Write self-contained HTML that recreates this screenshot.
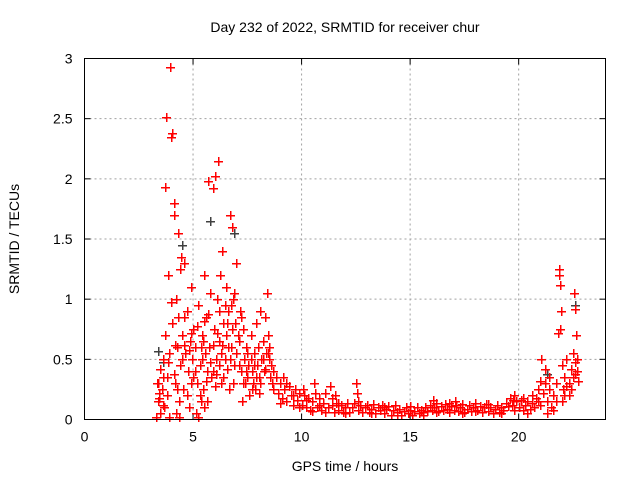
<!DOCTYPE html>
<html><head><meta charset="utf-8"><style>
body{margin:0;background:#fff}
svg{display:block;font-family:"Liberation Sans",sans-serif}
.pt{fill:#ff0000}
.pg{fill:#404040}
</style></head><body>
<svg id="chart" width="640" height="480" viewBox="0 0 640 480">
<rect width="640" height="480" fill="#fff"/>
<g id="grid"></g>
<g id="axes"></g>
<g id="points" shape-rendering="crispEdges"></g>
<rect x="84.5" y="58.5" width="521" height="361" fill="none" stroke="#000" stroke-width="1"/>
<text x="345" y="32" font-size="14" text-anchor="middle">Day 232 of 2022, SRMTID for receiver chur</text>
<text x="345" y="471" font-size="14" text-anchor="middle">GPS time / hours</text>
<text x="0" y="0" font-size="14" text-anchor="middle" transform="translate(19,239) rotate(-90)">SRMTID / TECUs</text>
</svg>
<script>
const xTicks=[0,5,10,15,20];
const yTicks=[0,0.5,1,1.5,2,2.5,3];
const yTickLabels=["0","0.5","1","1.5","2","2.5","3"];
const graySeries=[[3.4,0.57],[3.6,0.48],[4.5,1.45],[5.8,1.65],[6.9,1.55],[21.3,0.38],[22.6,0.95]];
const redSeries=[
[3.3,0.02],[3.35,0.3],[3.4,0.15],[3.45,0.22],[3.5,0.05],[3.55,0.25],[3.6,0.5],[3.65,0.1],[3.7,1.93],[3.75,2.51],[3.8,0.35],[3.85,1.2],[3.9,0.02],[3.95,2.93],[4.0,2.35],[4.02,2.38],[4.05,0.8],[4.1,1.7],[4.12,1.8],[4.15,0.3],[4.2,1.0],[4.25,0.6],[4.3,1.55],[4.35,0.15],[4.4,0.45],[4.45,1.35],[4.5,0.7],[4.55,0.25],[4.6,1.3],[4.65,0.55],[4.7,0.9],[4.75,0.4],[4.8,0.1],[4.85,0.65],[4.9,0.3],[4.95,0.5],[5.0,0.75],
[3.5,0.42],[3.6,0.12],[3.7,0.7],[3.8,0.2],[4.0,0.98],[4.1,0.38],[4.2,0.05],[4.4,1.25],[4.5,0.5],[4.6,0.85],[4.7,0.2],[4.8,0.58],[4.9,1.1],[5.0,0.35],[3.45,0.18],[3.85,0.48],[4.15,0.62],[4.35,0.02],
[5.1,0.6],[5.15,0.05],[5.2,0.3],[5.25,0.95],[5.3,0.45],[5.35,0.15],[5.4,0.7],[5.45,0.25],[5.5,1.2],[5.55,0.55],[5.6,0.85],[5.65,0.4],[5.7,1.98],[5.75,0.6],[5.8,1.05],[5.85,0.35],[5.9,1.92],[5.95,0.75],[6.0,2.02],[6.05,0.5],[6.1,1.0],[6.15,2.15],[6.2,0.65],[6.25,1.2],[6.3,0.3],[6.35,1.4],[6.4,0.8],[6.45,0.5],[6.5,1.1],[6.55,0.42],[6.6,0.9],[6.65,0.25],[6.7,1.7],[6.75,0.6],[6.8,1.6],[6.85,1.0],[6.9,0.45],[6.95,0.8],[7.0,1.3],
[5.2,0.78],[5.3,0.2],[5.4,0.5],[5.5,0.1],[5.6,0.32],[5.7,0.88],[5.8,0.48],[5.9,0.62],[6.0,0.28],[6.1,0.72],[6.2,0.9],[6.3,0.55],[6.4,0.35],[6.5,0.7],[6.6,0.6],[6.7,0.5],[6.8,0.75],[6.9,1.05],[7.0,0.55],[5.25,0.02],[5.45,0.65],[5.65,0.15],[6.05,0.38],[6.45,0.95],[6.85,0.3],
[3.4,0.3],[3.9,0.55],[4.3,0.85],[4.6,0.62],[4.9,0.72],[5.1,0.4],[5.5,0.82],[5.9,0.4],[6.2,0.45],[6.55,0.8],[6.75,0.95],[7.05,0.7],[7.2,0.85],[7.45,0.4],[7.8,0.45],[8.2,0.5],[8.45,0.55],[3.6,0.35],[4.25,0.25],[5.35,0.6],[6.35,0.62],
[7.1,0.65],[7.15,0.9],[7.2,0.4],[7.3,0.75],[7.35,0.5],[7.4,0.3],[7.45,0.6],[7.5,0.35],[7.55,0.45],[7.6,0.2],[7.65,0.7],[7.7,0.4],[7.75,0.3],[7.8,0.55],[7.85,0.25],[7.9,0.8],[7.95,0.45],[8.0,0.6],[8.05,0.35],[8.1,0.9],[8.15,0.5],[8.2,0.65],[8.25,0.4],[8.3,0.85],[8.35,0.55],[8.4,1.05],[8.45,0.7],[8.5,0.5],[8.55,0.35],[8.6,0.45],[8.65,0.3],[8.7,0.25],
[7.1,0.45],[7.3,0.3],[7.5,0.55],[7.7,0.25],[7.9,0.35],[8.1,0.3],[8.3,0.42],[8.5,0.6],[8.7,0.4],[7.25,0.15],[7.65,0.5],[8.05,0.22],
[8.8,0.35],[8.9,0.22],[9.0,0.3],[9.1,0.18],[9.2,0.25],[9.3,0.15],[9.4,0.28],[9.5,0.2],[9.6,0.12],[9.7,0.25],[9.8,0.16],[9.9,0.22],[10.0,0.12],[10.1,0.2],[10.2,0.1],[10.3,0.18],[10.4,0.08],[10.5,0.15],[10.6,0.22],[10.7,0.1],[10.8,0.18],[10.9,0.08],[11.0,0.14],[11.1,0.22],[11.2,0.1],[11.3,0.28],[11.4,0.12],[11.5,0.06],[11.6,0.14],[11.7,0.08],[11.8,0.12],[11.9,0.06],[12.0,0.1],[12.1,0.14],[12.2,0.06],[12.3,0.1],[12.4,0.14],[12.5,0.3],[12.55,0.22],[12.6,0.08],[12.7,0.12],[12.8,0.06],[12.9,0.1],[13.0,0.12],[13.1,0.06],[13.2,0.09],[13.3,0.13],[13.4,0.05],[13.5,0.1],[13.6,0.08],[13.7,0.12],[13.8,0.05],[13.9,0.09],[14.0,0.11],[14.1,0.04],[14.2,0.08],[14.3,0.12],[14.4,0.06],[14.5,0.09],[14.6,0.04],[14.7,0.07],[14.8,0.1],[14.9,0.05],[15.0,0.08],[15.1,0.04],[15.2,0.07],[15.3,0.1],[15.4,0.05],[15.5,0.08],[15.6,0.06],[15.7,0.1],[15.8,0.07],[15.9,0.12],[16.0,0.08],[16.1,0.1],[16.2,0.14],[16.3,0.07],[16.4,0.11],[16.5,0.08],[16.6,0.13],[16.7,0.09],[16.8,0.06],[16.9,0.11],[17.0,0.08],[17.1,0.12],[17.2,0.07],[17.3,0.1],[17.4,0.13],[17.5,0.06],[17.6,0.09],[17.7,0.12],[17.8,0.07],[17.9,0.1],[18.0,0.14],[18.1,0.08],[18.2,0.11],[18.3,0.06],[18.4,0.1],[18.5,0.13],[18.6,0.07],[18.7,0.1],[18.8,0.05],[18.9,0.09],[19.0,0.12],[19.1,0.06],[19.2,0.1],[19.3,0.08],[19.4,0.14],[19.5,0.11],[19.6,0.18],[19.7,0.12],[19.8,0.2],[19.9,0.15],[20.0,0.1],[20.1,0.16],[20.2,0.08],[20.3,0.12],[20.4,0.15],[20.5,0.09],[20.6,0.14],[20.7,0.1],[20.8,0.18],[20.9,0.25],[21.0,0.32],[21.05,0.5],[21.1,0.22],[21.2,0.3],[21.3,0.15],[21.4,0.25],[21.5,0.1],[21.6,0.2],[21.7,0.3],[21.8,0.72],[21.85,1.25],[21.9,1.12],[21.95,0.9],[22.0,0.45],[22.05,0.25],[22.1,0.35],[22.2,0.5],[22.3,0.3],[22.4,0.42],[22.5,0.55],[22.55,1.05],[22.6,0.92],[22.65,0.7],[22.7,0.4],[22.75,0.32],
[9.0,0.14],[9.3,0.3],[9.6,0.2],[9.9,0.1],[10.2,0.16],[10.5,0.07],[10.8,0.12],[11.1,0.06],[11.4,0.18],[11.7,0.14],[12.0,0.05],[12.6,0.15],[13.2,0.05],[13.8,0.1],[14.4,0.04],[15.0,0.11],[15.6,0.04],[16.2,0.06],[16.8,0.14],[17.4,0.05],[18.0,0.07],[18.6,0.13],[19.2,0.05],[19.8,0.08],[20.4,0.05],[21.0,0.12],[21.3,0.05],[21.6,0.08],[22.0,0.15],[22.3,0.2],[22.6,0.38],[21.85,1.2],[21.9,0.75],[22.6,0.48],[9.15,0.35],[10.05,0.25],[10.55,0.3],[11.55,0.2],[16.05,0.16],[17.05,0.15],[19.75,0.16],
[21.2,0.42],[21.4,0.35],[21.7,0.15],[22.1,0.2],[22.2,0.28],[22.4,0.25],[22.5,0.35],[22.7,0.5],[20.9,0.15],[20.6,0.2],[20.2,0.18]
];
const NS="http://www.w3.org/2000/svg";
const X0=84.5,X1=605.5,Y0=419.5,Y1=58.5;
function xs(h){return X0+(h/24)*(X1-X0);}
function ys(v){return Y0-(v/3)*(Y0-Y1);}
function mk(tag,attrs,parent){const e=document.createElementNS(NS,tag);for(const k in attrs)e.setAttribute(k,attrs[k]);parent.appendChild(e);return e;}
const grid=document.getElementById('grid'),axes=document.getElementById('axes'),pts=document.getElementById('points');
xTicks.forEach(t=>{
 const x=xs(t);
 if(t>0){const g=mk('line',{x1:x,x2:x,y1:Y1,y2:Y0,stroke:'#a0a0a0','stroke-dasharray':'2,3'},grid);
 
 }
 mk('line',{x1:x,x2:x,y1:Y0,y2:Y0-6,stroke:'#000'},axes);
 mk('line',{x1:x,x2:x,y1:Y1,y2:Y1+6,stroke:'#000'},axes);
 const lb=mk('text',{x:x,y:Y0+22,'font-size':14,'text-anchor':'middle'},axes);
 lb.textContent=String(t);
 
 
});
yTicks.forEach((t,i)=>{
 const y=ys(t);
 if(t>0&&t<3){const g=mk('line',{x1:X0,x2:X1,y1:y,y2:y,stroke:'#a0a0a0','stroke-dasharray':'2,3'},grid);
 
 }
 mk('line',{x1:X0,x2:X0+6,y1:y,y2:y,stroke:'#000'},axes);
 mk('line',{x1:X1,x2:X1-6,y1:y,y2:y,stroke:'#000'},axes);
 const lb=mk('text',{x:X0-12,y:y+5,'font-size':14,'text-anchor':'end'},axes);
 lb.textContent=yTickLabels[i];
 
 
});
function plus(p,cls){
 const x=Math.round(xs(p[0])),y=Math.round(ys(p[1]));
 const e=mk('path',{d:`M${x-4},${y}h9v1.5h-9zM${x},${y-4}h1.5v9h-1.5z`,'class':cls},pts);
 
 
}
graySeries.forEach(p=>plus(p,'pg'));
redSeries.forEach(p=>plus(p,'pt'));
</script>
</body></html>
